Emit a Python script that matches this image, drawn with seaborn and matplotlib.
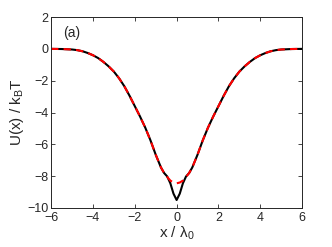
import matplotlib
matplotlib.use("Agg")
import matplotlib.pyplot as plt
import pandas as pd
import seaborn as sns

# values (left half; right half mirrors it)
x_half = [-6.0, -5.5, -5.0, -4.75, -4.5, -4.25, -4.0, -3.75, -3.5, -3.25,
          -3.0, -2.75, -2.5, -2.25, -2.0, -1.75, -1.5, -1.25, -1.0, -0.75,
          -0.6, -0.45, -0.3, -0.15, 0.0]
u_full_half = [0.0, -0.01, -0.04, -0.08, -0.15, -0.26, -0.40, -0.58, -0.82, -1.10,
               -1.43, -1.85, -2.35, -2.95, -3.60, -4.25, -4.95, -5.75, -6.65, -7.45,
               -7.80, -8.02, -8.45, -9.10, -9.50]
u_fit_half = [0.0, -0.01, -0.04, -0.08, -0.15, -0.26, -0.40, -0.58, -0.82, -1.10,
              -1.43, -1.85, -2.35, -2.95, -3.60, -4.25, -4.95, -5.75, -6.65, -7.45,
              -7.80, -8.05, -8.28, -8.40, -8.45]

x_vals = x_half + [-v for v in x_half[-2::-1]]
u_full = u_full_half + u_full_half[-2::-1]
u_fit = u_fit_half + u_fit_half[-2::-1]

df = pd.DataFrame({"x": x_vals, "full": u_full, "fit": u_fit})

sns.set_style("ticks")
plt.rcParams["font.family"] = ["Liberation Sans", "DejaVu Sans"]
plt.rcParams["mathtext.fontset"] = "custom"
plt.rcParams["mathtext.rm"] = "Liberation Sans"
plt.rcParams["mathtext.it"] = "Liberation Sans"

fig = plt.figure(figsize=(3.32, 2.47), dpi=100)
ax = fig.add_axes([0.154, 0.158, 0.756, 0.773])

sns.lineplot(data=df, x="x", y="full", color="black", lw=1.5, ax=ax)
sns.lineplot(data=df, x="x", y="fit", color="red", lw=1.5, ax=ax,
             linestyle=(0, (3.5, 2.5)))

ax.set_xlim(-6, 6)
ax.set_ylim(-10, 2)
ax.set_xticks(range(-6, 7, 2))
ax.set_yticks(range(-10, 3, 2))
ax.tick_params(direction="in", length=3, width=0.6, labelsize=9,
               top=True, right=True)
ax.tick_params(axis="x", pad=3)
ax.tick_params(axis="y", pad=2)
ax.set_xticklabels(["\u22126", "\u22124", "\u22122", "0", "2", "4", "6"])
ax.set_yticklabels(["\u221210", "\u22128", "\u22126", "\u22124", "\u22122", "0", "2"])
for s in ax.spines.values():
    s.set_linewidth(0.7)

ax.set_xlabel(r"x / λ$_\mathregular{0}$", fontsize=11, labelpad=0.5)
ax.set_ylabel(r"U(x) / k$_\mathregular{B}$T", fontsize=11, labelpad=1)
ax.text(-5.45, 1.0, "(a)", fontsize=10, va="center")

fig.savefig("out.png", dpi=100)
